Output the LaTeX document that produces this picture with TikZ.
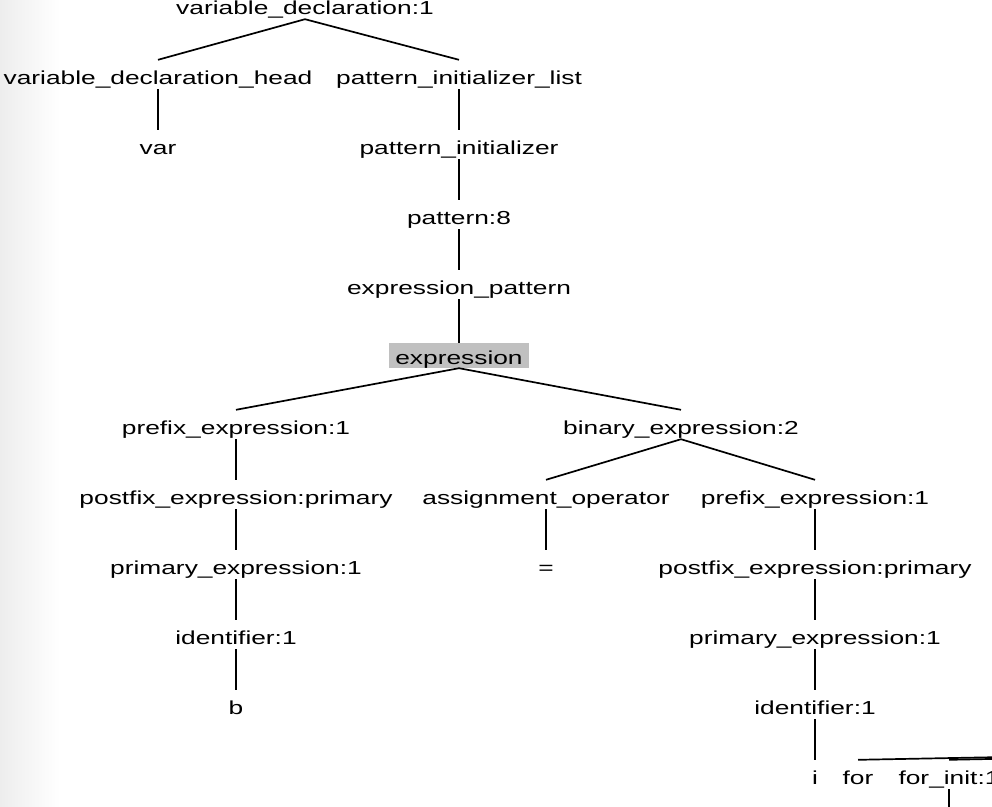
\documentclass[tikz,border=0pt]{standalone}
\usepackage{fontspec}
\newfontfamily\treefont[FakeStretch=1.4]{Liberation Sans}
\definecolor{hl}{RGB}{192,192,192}
\begin{document}
\begin{tikzpicture}[x=1pt,y=-1pt,
  t/.style={font=\treefont\fontsize{18.8}{22}\selectfont, inner sep=0pt,
            text height=24pt, text depth=5pt, anchor=base},
  hlbox/.style={t, fill=hl, text height=21pt, text depth=4pt, inner xsep=6pt},
  e/.style={line width=1.7pt}]
\useasboundingbox (0,0) rectangle (992,806);
\clip (0,0) rectangle (992,806);
\shade[left color=black!7, right color=white] (0,0) rectangle (60,806);
% row 1
\node[t] (vd1) at (305,14) {variable\_declaration:1};
% row 2
\node[t] (vdh) at (158,84) {variable\_declaration\_head};
\node[t] (pil) at (459,84) {pattern\_initializer\_list};
% row 3
\node[t] (var) at (158,154) {var};
\node[t] (pi) at (459,154) {pattern\_initializer};
% row 4
\node[t] (pat) at (459,224) {pattern:8};
% row 5
\node[t] (ep) at (459,294) {expression\_pattern};
% row 6
\node[hlbox] (expr) at (459,364) {expression};
% row 7
\node[t] (pe1) at (236,434) {prefix\_expression:1};
\node[t] (be2) at (681,434) {binary\_expression:2};
% row 8
\node[t] (pfe1) at (236,504) {postfix\_expression:primary};
\node[t] (ao) at (546,504) {assignment\_operator};
\node[t] (pe2) at (815,504) {prefix\_expression:1};
% row 9
\node[t] (pre1) at (236,574) {primary\_expression:1};
\node[t] (eq) at (546,574) {=};
\node[t] (pfe2) at (815,574) {postfix\_expression:primary};
% row 10
\node[t] (id1) at (236,644) {identifier:1};
\node[t] (pre2) at (815,644) {primary\_expression:1};
% row 11
\node[t] (b) at (236,714) {b};
\node[t] (id2) at (815,714) {identifier:1};
% row 12
\node[t] (i) at (815,784) {i};
\node[t] (for) at (858,784) {for};
\node[t] (fi) at (949,784) {for\_init:1};
\coordinate (par) at (3000,719);
\coordinate (below) at (949,900);
% edges
\draw[e] (vd1.south) -- (vdh.north);
\draw[e] (vd1.south) -- (pil.north);
\draw[e] (vdh.south) -- (var.north);
\draw[e] (pil.south) -- (pi.north);
\draw[e] (pi.south) -- (pat.north);
\draw[e] (pat.south) -- (ep.north);
\draw[e] (ep.south) -- (expr.north);
\draw[e] (expr.south) -- (pe1.north);
\draw[e] (expr.south) -- (be2.north);
\draw[e] (pe1.south) -- (pfe1.north);
\draw[e] (pfe1.south) -- (pre1.north);
\draw[e] (pre1.south) -- (id1.north);
\draw[e] (id1.south) -- (b.north);
\draw[e] (be2.south) -- (ao.north);
\draw[e] (be2.south) -- (pe2.north);
\draw[e] (ao.south) -- (eq.north);
\draw[e] (pe2.south) -- (pfe2.north);
\draw[e] (pfe2.south) -- (pre2.north);
\draw[e] (pre2.south) -- (id2.north);
\draw[e] (id2.south) -- (i.north);
\draw[e] (par) -- (for.north);
\draw[e] (par) -- (fi.north);
\draw[e] (fi.south) -- (below);
\end{tikzpicture}
\end{document}
